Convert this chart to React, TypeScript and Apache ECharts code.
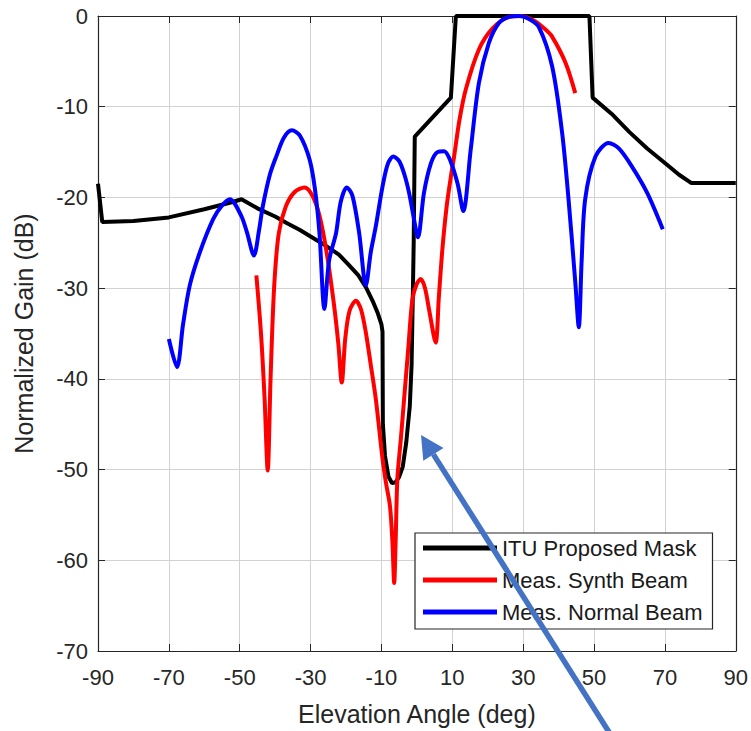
import React, { useEffect, useRef } from "react";
import * as echarts from "echarts";

const xTicks = [-90, -70, -50, -30, -10, 10, 30, 50, 70, 90];
const yTicks = [0, -10, -20, -30, -40, -50, -60, -70];

const maskAngle = [-90, -88.8, -80, -70, -60, -52, -49.5, -45, -40, -36.9, -33, -30, -26.6, -22, -19.1, -16.5, -14.4, -12.5, -11, -10, -9.7, -9.6, -9, -8, -7, -6, -5, -4, -3, -2, -1.5, -1.2, -0.9, -0.6, 9.6, 11, 48.7, 49.6, 55, 60, 65, 70, 74, 77.4, 90];
const maskGain = [-18.5, -22.7, -22.6, -22.2, -21.3, -20.5, -20.2, -21.2, -22.1, -22.8, -23.6, -24.3, -25.1, -26.3, -27.5, -28.6, -29.9, -31.4, -32.8, -34, -34.8, -45, -48.5, -50.8, -51.5, -51.4, -50.8, -49.7, -47, -43, -38.5, -32, -25, -13.3, -9, 0, 0, -9, -10.8, -12.8, -14.6, -16.2, -17.5, -18.4, -18.4];

const synthAngle = [-45.3, -44, -43, -42.1, -41.3, -40.3, -39, -37, -34.5, -31.7, -29.5, -27.5, -25.5, -23.5, -22.2, -21.2, -20.2, -19, -17.2, -15.8, -14.4, -13, -11.6, -9.7, -8.75, -7.6, -6.9, -6.4, -6, -5.5, -4.5, -3.6, -2.4, -1.25, 0, 1.1, 2.3, 3.5, 5.3, 6.2, 7.2, 8.4, 9.6, 10.5, 12, 13.8, 17.5, 21.3, 26, 29.2, 33, 36.3, 38.2, 42, 44.7];
const synthGain = [-28.6, -35, -42, -50.1, -40, -30, -24, -21, -19.4, -18.9, -19.8, -22, -26, -31.5, -36, -40.4, -35.5, -32.5, -31.4, -32.3, -34.9, -38.5, -42.2, -48.8, -51.4, -54, -58, -62.5, -58, -51, -46.5, -42.2, -36.5, -31.2, -29.5, -29, -30, -32.5, -36, -31, -25.7, -21, -17.7, -15.5, -11.5, -8.1, -3.7, -1.4, -0.1, 0, -0.5, -1.5, -2.3, -5.2, -8.5];

const normalAngle = [-70, -67.7, -66, -64.1, -61.3, -57.5, -55, -52.8, -49.6, -48, -46, -44.5, -43.5, -41.5, -39.7, -37.5, -35.3, -33, -30.3, -28.8, -27.5, -26.1, -24.8, -22.8, -21.5, -19.8, -18.2, -16.3, -14.4, -13, -11.6, -9.7, -8.2, -6.7, -5, -3.5, -2.2, -1, 0.3, 2, 4, 5.8, 7.7, 9.5, 11.5, 13.1, 15.2, 17.5, 20.3, 23.1, 26, 28.8, 31.5, 34.4, 38.2, 41, 42.8, 44.7, 45.7, 46.5, 47.5, 50.4, 54.1, 57, 60.7, 65, 69.4];
const normalGain = [-35.6, -38.7, -34, -29.7, -26.1, -22.4, -20.9, -20.2, -22, -23.8, -26.4, -23.5, -21, -17.5, -15.5, -13.4, -12.6, -13.2, -15.8, -19, -23.9, -32.3, -27, -23.9, -20.5, -18.9, -19.8, -23.9, -29.7, -26, -23.2, -18.8, -16.3, -15.5, -16, -17.5, -19.5, -22, -24.4, -19.5, -16.2, -15, -14.9, -16, -18.5, -21.5, -14.7, -7.4, -3, -0.8, -0.1, 0, -0.3, -1.2, -5.6, -12.9, -20.2, -29.3, -34.3, -27, -20.2, -15.5, -14, -14.6, -16.6, -19.5, -23.5];

const seriesNames = ["ITU Proposed Mask", "Meas. Synth Beam", "Meas. Normal Beam"];
const seriesColors = ["#000000", "#ff0000", "#0000ff"];

const zip = (a: number[], b: number[]) => a.map((v, i) => [v, b[i]]);

const FONT = "'Liberation Sans', Arial, Helvetica, sans-serif";
const TXT = "#262626";
const GRID = "#d2d2d2";

export default function App() {
  const ref = useRef<HTMLDivElement>(null);
  useEffect(() => {
    if (!ref.current) return;
    const chart = echarts.init(ref.current, undefined, { renderer: "svg" });
    const axisCommon = {
      type: "value" as const,
      axisLine: { show: true, onZero: false, lineStyle: { color: TXT, width: 1.2 } },
      axisTick: { show: true, inside: true, length: 7, lineStyle: { color: TXT } },
    };
    const tipX = 421, tipY = 435;
    const dx = 0.539, dy = 0.842;
    const hl = 23, hw = 12;
    const bx = tipX + dx * hl, by = tipY + dy * hl;
    chart.setOption({
      animation: false,
      backgroundColor: "#ffffff",
      textStyle: { fontFamily: FONT },
      grid: { left: 98, right: 13, top: 16, bottom: 78, containLabel: false },
      xAxis: [
        {
          ...axisCommon,
          position: "bottom",
          min: xTicks[0],
          max: xTicks[xTicks.length - 1],
          interval: 20,
          name: "Elevation Angle (deg)",
          nameLocation: "middle",
          nameGap: 50,
          nameTextStyle: { fontSize: 25, color: TXT, fontFamily: FONT },
          axisLabel: { fontSize: 22, color: TXT, margin: 15, fontFamily: FONT },
          splitLine: { show: true, lineStyle: { color: GRID, width: 1 } },
        },
        {
          ...axisCommon,
          position: "top",
          min: xTicks[0],
          max: xTicks[xTicks.length - 1],
          interval: 20,
          axisLabel: { show: false },
          splitLine: { show: false },
        },
      ],
      yAxis: [
        {
          ...axisCommon,
          position: "left",
          min: yTicks[yTicks.length - 1],
          max: yTicks[0],
          interval: 10,
          name: "Normalized Gain (dB)",
          nameLocation: "middle",
          nameGap: 62,
          nameTextStyle: { fontSize: 25, color: TXT, fontFamily: FONT },
          axisLabel: { fontSize: 22, color: TXT, margin: 10, fontFamily: FONT },
          splitLine: { show: true, lineStyle: { color: GRID, width: 1 } },
        },
        {
          ...axisCommon,
          position: "right",
          min: yTicks[yTicks.length - 1],
          max: yTicks[0],
          interval: 10,
          axisLabel: { show: false },
          splitLine: { show: false },
        },
      ],
      legend: {
        orient: "vertical",
        left: 415,
        top: 533,
        padding: [4, 10, 6, 8],
        itemWidth: 74,
        itemHeight: 5,
        itemGap: 10,
        icon: "rect",
        backgroundColor: "#ffffff",
        borderColor: TXT,
        borderWidth: 1.2,
        borderRadius: 0,
        textStyle: { fontSize: 22, lineHeight: 22, color: "#1a1a1a", fontFamily: FONT },
        data: seriesNames,
      },
      series: [
        {
          name: seriesNames[0],
          type: "line",
          symbol: "none",
          data: zip(maskAngle, maskGain),
          lineStyle: { color: seriesColors[0], width: 4 },
          itemStyle: { color: seriesColors[0] },
          z: 2,
        },
        {
          name: seriesNames[1],
          type: "line",
          symbol: "none",
          smooth: 0.3,
          data: zip(synthAngle, synthGain),
          lineStyle: { color: seriesColors[1], width: 4 },
          itemStyle: { color: seriesColors[1] },
          z: 3,
        },
        {
          name: seriesNames[2],
          type: "line",
          symbol: "none",
          smooth: 0.3,
          data: zip(normalAngle, normalGain),
          lineStyle: { color: seriesColors[2], width: 4 },
          itemStyle: { color: seriesColors[2] },
          z: 4,
        },
      ],
      graphic: [
        {
          type: "line",
          z: 100,
          shape: { x1: bx, y1: by, x2: 614, y2: 740 },
          style: { stroke: "#4472C4", lineWidth: 5.5 },
        },
        {
          type: "polygon",
          z: 100,
          shape: {
            points: [
              [tipX, tipY],
              [bx - dy * hw, by + dx * hw],
              [bx + dy * hw, by - dx * hw],
            ],
          },
          style: { fill: "#4472C4" },
        },
      ],
    });
    return () => chart.dispose();
  }, []);
  return <div ref={ref} style={{ width: 751, height: 731, position: "absolute", left: 0, top: 0 }} />;
}
